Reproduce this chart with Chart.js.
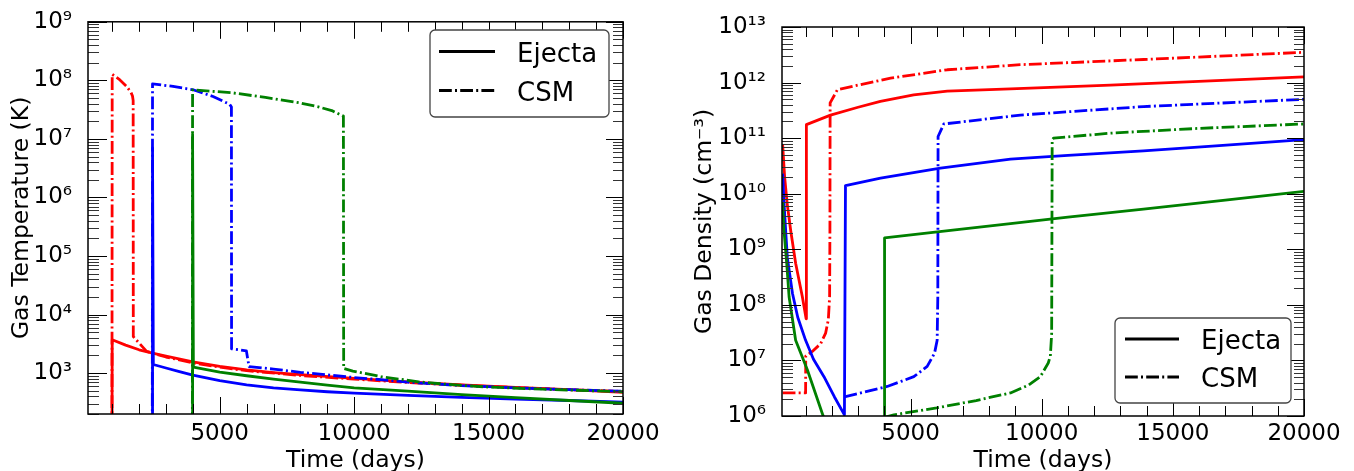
<!DOCTYPE html>
<html>
<head>
<meta charset="utf-8">
<title>Gas temperature and density</title>
<script src="https://cdn.jsdelivr.net/npm/chart.js@4.4.1/dist/chart.umd.min.js"></script>
<style>
  body { margin: 0; background: #fff; }
  .panel { position: absolute; top: 0; width: 677px; height: 471px; }
</style>
</head>
<body>
<div class="panel" style="left:0"><canvas id="tempChart" width="677" height="471"></canvas></div>
<div class="panel" style="left:677px"><canvas id="densChart" width="677" height="471"></canvas></div>
<script>
// [day, value] pairs
// left panel: gas temperature (K)
const tempRedEjecta = [[100,10],[990,10],[1000,3700],[1500,3000],[2000,2500],[2500,2200],[3000,1950],[4000,1550],[5000,1300],[6000,1130],[7000,1020],[8000,940],[10000,810],[12000,710],[14000,630],[16000,570],[18000,520],[20000,470]];
const tempRedCSM = [[100,10],[990,10],[1000,1.27e8],[1250,1.05e8],[1535,7.9e7],[1700,6.2e7],[1755,5.4e7],[1780,4.5e7],[1785,4200],[2280,2350],[3000,1880],[4000,1500],[5000,1260],[6000,1100],[8000,910],[10000,790],[12000,690],[14000,620],[16000,565],[18000,520],[20000,485]];
const tempBlueEjecta = [[100,10],[2490,10],[2500,7e6],[2530,1400],[3000,1220],[3500,1060],[4000,920],[5000,740],[6000,630],[7000,560],[8000,515],[9000,480],[10000,455],[12000,415],[14000,385],[16000,360],[18000,340],[20000,320]];
const tempBlueCSM = [[100,10],[2490,10],[2500,8.7e7],[3265,7.9e7],[4010,6.9e7],[4750,5.3e7],[5370,3.9e7],[5435,3.5e7],[5440,2600],[5990,2400],[6090,1290],[7000,1170],[8000,1030],[9000,930],[10000,840],[11000,770],[12000,700],[14000,610],[16000,560],[18000,520],[20000,490]];
const tempGreenEjecta = [[100,10],[3980,10],[3990,1.2e7],[4020,1260],[5000,1040],[6000,900],[7000,790],[8000,700],[9000,620],[10000,560],[12000,490],[14000,430],[16000,380],[18000,340],[20000,305]];
const tempGreenCSM = [[100,10],[3980,10],[3990,6.9e7],[5500,6.1e7],[6700,5.1e7],[8000,4.1e7],[8700,3.5e7],[9200,3e7],[9600,2.45e7],[9610,1200],[9950,1080],[11000,870],[12400,710],[13500,640],[14900,580],[17000,530],[20000,480]];

// right panel: gas density (cm^-3)
const densRedEjecta = [[125,7.6e10],[200,2e10],[300,6.5e9],[430,2.2e9],[620,5.6e8],[876,1.4e8],[1020,5.6e7],[1030,1.75e11],[1950,2.6e11],[3000,3.6e11],[3850,4.6e11],[5120,6e11],[6400,7e11],[8810,7.7e11],[12620,9e11],[16430,1.07e12],[20000,1.27e12]];
const densRedCSM = [[125,2.6e6],[1000,2.6e6],[1005,1.2e7],[1256,1.45e7],[1573,2e7],[1763,3.1e7],[1866,5.4e7],[1915,1.4e8],[1927,2.2e9],[1935,4.3e11],[2210,7.4e11],[3000,9e11],[4240,1.2e12],[6400,1.7e12],[9190,2.1e12],[13880,2.6e12],[20000,3.5e12]];
const densBlueEjecta = [[125,2.3e10],[175,7e9],[250,1.8e9],[305,7e8],[500,1.6e8],[700,6e7],[1000,2.3e7],[1300,1.05e7],[1700,5.1e6],[2100,2.2e6],[2480,1.05e6],[2520,1.4e10],[3857,1.9e10],[6140,2.9e10],[8810,4.2e10],[11000,4.9e10],[13880,5.9e10],[16500,7.2e10],[20000,9.4e10]];
const densBlueCSM = [[2480,2.2e6],[4110,3.4e6],[5125,5.1e6],[5635,7.8e6],[5915,1.35e7],[6015,2.3e7],[6040,1.4e8],[6050,1.07e11],[6270,1.8e11],[9190,2.6e11],[13880,3.7e11],[20000,5e11]];
const densGreenEjecta = [[125,6.8e9],[175,2.2e9],[280,5.6e8],[370,1.4e8],[620,2.3e7],[1066,6.8e6],[1640,1.1e6],[1900,5e5],[3990,5e5],[4010,1.6e9],[6780,2.25e9],[8810,2.9e9],[11000,3.8e9],[13880,5.3e9],[17000,7.7e9],[20000,1.1e10]];
const densGreenCSM = [[4010,9.5e5],[4365,1.05e6],[6000,1.4e6],[7500,1.9e6],[8810,2.6e6],[9500,3.6e6],[9950,5.1e6],[10250,9e6],[10330,1.2e7],[10380,3e7],[10400,9.3e10],[10450,1e11],[12620,1.23e11],[16000,1.5e11],[20000,1.8e11]];

const xTickValues = [5000, 10000, 15000, 20000];
const tempTickValues = [1e3, 1e4, 1e5, 1e6, 1e7, 1e8, 1e9];
const densTickValues = [1e6, 1e7, 1e8, 1e9, 1e10, 1e11, 1e12, 1e13];
const legendLabels = ["Ejecta", "CSM"];

const FONT = "'DejaVu Sans', sans-serif";
const DASHDOT = [12.8, 3.2, 2, 3.2];
Chart.defaults.font.family = FONT;
Chart.defaults.color = "#000";

const SUP = { "0": "⁰", "1": "¹", "2": "²", "3": "³", "4": "⁴", "5": "⁵", "6": "⁶", "7": "⁷", "8": "⁸", "9": "⁹", "-": "⁻" };
const powLabel = (v) => {
  const e = Math.round(Math.log10(v));
  return "10" + String(e).split("").map((c) => SUP[c]).join("");
};

// ticks pointing inwards on all four sides, frame and legend box
const frameTicks = {
  id: "frameTicks",
  afterDraw(chart, args, opts) {
    const { ctx, chartArea: a, scales: { x, y } } = chart;
    const seg = (x0, y0, x1, y1) => {
      ctx.beginPath();
      ctx.moveTo(x0, y0);
      ctx.lineTo(x1, y1);
      ctx.stroke();
    };
    ctx.save();
    ctx.strokeStyle = "#000";
    ctx.lineWidth = 1;
    for (let v = 1000; v <= 20000; v += 1000) {
      const px = Math.round(x.getPixelForValue(v)) + 0.5;
      const len = v % 5000 === 0 ? 17 : 10;
      seg(px, a.bottom, px, a.bottom - len);
      seg(px, a.top, px, a.top + len);
    }
    const e0 = Math.floor(Math.log10(y.min));
    const e1 = Math.ceil(Math.log10(y.max));
    for (let e = e0; e <= e1; e++) {
      for (let k = 1; k <= 9; k++) {
        const v = k * Math.pow(10, e);
        if (v < y.min * 0.999 || v > y.max * 1.001) continue;
        const py = Math.round(y.getPixelForValue(v)) + 0.5;
        const major = k === 1;
        ctx.strokeStyle = major ? "#000" : "#333";
        seg(a.left, py, a.left + (major ? 19 : 11), py);
        seg(a.right, py, a.right - (major ? 17 : 10), py);
      }
    }
    ctx.strokeStyle = "#000";
    ctx.lineWidth = 1.5;
    ctx.strokeRect(a.left, a.top, a.right - a.left, a.bottom - a.top);

    // legend
    const L = opts.legend;
    ctx.lineWidth = 1.3;
    ctx.strokeStyle = "#444";
    ctx.fillStyle = "#fff";
    ctx.beginPath();
    ctx.roundRect(L.x, L.y, L.w, L.h, 5);
    ctx.fill();
    ctx.stroke();
    ctx.strokeStyle = "#000";
    ctx.lineWidth = 2.8;
    ctx.lineCap = "butt";
    ctx.font = "26px " + FONT;
    ctx.fillStyle = "#000";
    ctx.textBaseline = "alphabetic";
    legendLabels.forEach((label, i) => {
      ctx.setLineDash(i === 0 ? [] : DASHDOT);
      seg(L.lineX0, L.y + L.rows[i], L.lineX1, L.y + L.rows[i]);
      ctx.fillText(label, L.textX, L.y + L.base[i]);
    });
    ctx.restore();
  },
};

const series = (pairs, color, dashed) => ({
  data: pairs.map(([d, v]) => ({ x: d, y: v })),
  borderColor: color,
  borderWidth: 2.8,
  borderDash: dashed ? DASHDOT : [],
  borderCapStyle: "butt",
  borderJoinStyle: "round",
  pointRadius: 0,
  tension: 0,
  fill: false,
  clip: 0,
});

function makeChart(id, cfg) {
  return new Chart(document.getElementById(id), {
    type: "line",
    data: {
      // matplotlib draws later lines on top; Chart.js draws the first dataset on top
      datasets: [
        series(cfg.greenCSM, "#008000", true),
        series(cfg.greenEjecta, "#008000", false),
        series(cfg.blueCSM, "#0000ff", true),
        series(cfg.blueEjecta, "#0000ff", false),
        series(cfg.redCSM, "#ff0000", true),
        series(cfg.redEjecta, "#ff0000", false),
      ],
    },
    options: {
      responsive: false,
      animation: false,
      events: [],
      layout: { padding: { top: cfg.top, right: cfg.right, left: 0, bottom: 0 } },
      scales: {
        x: {
          type: "linear",
          min: 100,
          max: 20000,
          grid: { display: false },
          border: { display: false },
          afterBuildTicks: (s) => { s.ticks = xTickValues.map((v) => ({ value: v })); },
          afterFit: (s) => { s.height = cfg.xHeight; },
          ticks: {
            autoSkip: false,
            maxRotation: 0,
            padding: cfg.xTickPad,
            font: { size: 23 },
            callback: (v) => String(v),
          },
          title: {
            display: true,
            text: "Time (days)",
            font: { size: 23.5 },
            padding: { top: 0, bottom: -4 },
          },
        },
        y: {
          type: "logarithmic",
          min: cfg.yMin,
          max: cfg.yMax,
          grid: { display: false },
          border: { display: false },
          afterBuildTicks: (s) => { s.ticks = cfg.yTicks.map((v) => ({ value: v })); },
          afterFit: (s) => { s.width = cfg.yWidth; },
          ticks: {
            autoSkip: false,
            padding: 8,
            font: { size: 23 },
            callback: (v) => powLabel(v),
          },
          title: {
            display: true,
            text: cfg.yTitle,
            font: { size: 23.5 },
            padding: { top: cfg.titlePad, bottom: 0 },
          },
        },
      },
      plugins: {
        legend: { display: false },
        tooltip: { enabled: false },
        frameTicks: { legend: cfg.legend },
      },
    },
    plugins: [frameTicks],
  });
}

makeChart("tempChart", {
  redEjecta: tempRedEjecta, redCSM: tempRedCSM,
  blueEjecta: tempBlueEjecta, blueCSM: tempBlueCSM,
  greenEjecta: tempGreenEjecta, greenCSM: tempGreenCSM,
  yMin: 200, yMax: 1e9, yTicks: tempTickValues,
  yTitle: "Gas Temperature (K)",
  top: 16, right: 54, yWidth: 88, xHeight: 57, titlePad: 8, xTickPad: -2,
  legend: { x: 430, y: 30, w: 179, h: 87, lineX0: 439, lineX1: 495, textX: 517, rows: [21.5, 60.5], base: [31.5, 70.5] },
});

makeChart("densChart", {
  redEjecta: densRedEjecta, redCSM: densRedCSM,
  blueEjecta: densBlueEjecta, blueCSM: densBlueCSM,
  greenEjecta: densGreenEjecta, greenCSM: densGreenCSM,
  yMin: 1e6, yMax: 1e13, yTicks: densTickValues,
  yTitle: "Gas Density (cm⁻³)",
  top: 27, right: 50, yWidth: 105, xHeight: 55, titlePad: 14, xTickPad: -4,
  legend: { x: 438, y: 318, w: 176, h: 85, lineX0: 448, lineX1: 502, textX: 524, rows: [21, 59], base: [30.5, 68.5] },
});
</script>
</body>
</html>
